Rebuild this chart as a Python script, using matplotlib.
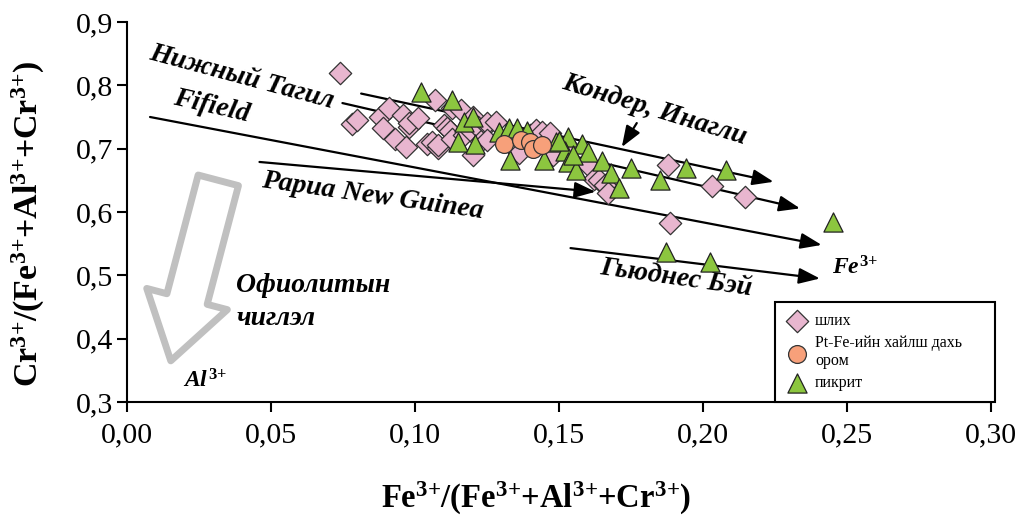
import matplotlib
matplotlib.use("Agg")
import matplotlib.pyplot as plt
from matplotlib.ticker import FuncFormatter, FixedLocator
from matplotlib.patches import FancyArrowPatch

plt.rcParams['font.family'] = ['Liberation Serif', 'DejaVu Serif']
plt.rcParams['mathtext.fontset'] = 'custom'
plt.rcParams['mathtext.rm'] = 'Liberation Serif:bold'
plt.rcParams['mathtext.it'] = 'Liberation Serif:italic:bold'
plt.rcParams['mathtext.bf'] = 'Liberation Serif:bold'

# ---- data ----
shlikh_x = [0.074, 0.078, 0.080, 0.088, 0.089, 0.091, 0.093, 0.096, 0.097, 0.098,
            0.098, 0.101, 0.104, 0.106, 0.107, 0.108, 0.108, 0.110, 0.111, 0.112,
            0.113, 0.113, 0.116, 0.117, 0.119, 0.120, 0.120, 0.122, 0.123, 0.125,
            0.125, 0.125, 0.128, 0.136, 0.140, 0.142, 0.144, 0.147, 0.148, 0.153,
            0.160, 0.162, 0.164, 0.166, 0.167, 0.188, 0.203, 0.2146, 0.1887]
shlikh_y = [0.820, 0.739, 0.745, 0.750, 0.732, 0.764, 0.715, 0.753, 0.702, 0.735,
            0.740, 0.748, 0.708, 0.711, 0.777, 0.701, 0.706, 0.737, 0.732, 0.728,
            0.764, 0.716, 0.761, 0.722, 0.730, 0.690, 0.750, 0.734, 0.712, 0.737,
            0.740, 0.714, 0.742, 0.693, 0.722, 0.729, 0.727, 0.724, 0.690, 0.705,
            0.674, 0.652, 0.650, 0.642, 0.630, 0.675, 0.641, 0.624, 0.582]

pikrit_x = [0.102, 0.1127, 0.117, 0.120, 0.115, 0.121, 0.129, 0.1327, 0.1355, 0.133,
            0.1448, 0.149, 0.153, 0.158, 0.152, 0.160, 0.153, 0.156, 0.165, 0.168,
            0.171, 0.175, 0.185, 0.194, 0.208, 0.245, 0.187, 0.2025, 0.139, 0.155,
            0.150]
pikrit_y = [0.790, 0.777, 0.742, 0.750, 0.711, 0.707, 0.727, 0.732, 0.732, 0.682,
            0.682, 0.711, 0.719, 0.708, 0.697, 0.694, 0.679, 0.666, 0.680, 0.661,
            0.638, 0.669, 0.650, 0.669, 0.666, 0.585, 0.537, 0.521, 0.728, 0.690,
            0.712]

ptfe_x = [0.131, 0.1367, 0.140, 0.1408, 0.1442]
ptfe_y = [0.708, 0.714, 0.711, 0.700, 0.706]

# trend lines (start x, start y, end x, end y)
trend_start_x = [0.0813, 0.0748, 0.008, 0.046, 0.154]
trend_start_y = [0.787, 0.772, 0.750, 0.679, 0.543]
trend_end_x = [0.2245, 0.2337, 0.2412, 0.1627, 0.2406]
trend_end_y = [0.6477, 0.6057, 0.548, 0.632, 0.495]

xticks = [0.00, 0.05, 0.10, 0.15, 0.20, 0.25, 0.30]
yticks = [0.3, 0.4, 0.5, 0.6, 0.7, 0.8, 0.9]

legend_labels = ['шлих', 'Pt-Fe-ийн хайлш дахь\nором', 'пикрит']

SUP = r'$^{3\!+}\!$'

# ---- figure ----
fig = plt.figure(figsize=(10.24, 5.2), dpi=100)
ax = fig.add_axes([127/1024, 1-402/520, 864/1024, 380/520])
ax.set_xlim(0, 0.30)
ax.set_ylim(0.3, 0.9)

for s in ['top', 'right']:
    ax.spines[s].set_visible(False)
for s in ['left', 'bottom']:
    ax.spines[s].set_linewidth(1.5)

ax.xaxis.set_major_locator(FixedLocator(xticks))
ax.yaxis.set_major_locator(FixedLocator(yticks))
ax.xaxis.set_major_formatter(FuncFormatter(lambda v, p: f"{v:.2f}".replace('.', ',')))
ax.yaxis.set_major_formatter(FuncFormatter(lambda v, p: f"{v:.1f}".replace('.', ',')))
ax.tick_params(axis='both', direction='out', length=7, width=1.5, labelsize=21.5)
ax.tick_params(axis='x', pad=8)
ax.tick_params(axis='y', pad=3)

# trend lines with arrows
for sx, sy, ex, ey in zip(trend_start_x, trend_start_y, trend_end_x, trend_end_y):
    ax.annotate('', xy=(ex, ey), xytext=(sx, sy),
                arrowprops=dict(arrowstyle='-|>,head_length=0.8,head_width=0.3',
                                mutation_scale=16, lw=1.6, color='black',
                                shrinkA=0, shrinkB=0), zorder=2)

# small arrow to Кондер line
ax.annotate('', xy=(0.1718, 0.7025), xytext=(0.177, 0.7404),
            arrowprops=dict(arrowstyle='-|>,head_length=0.8,head_width=0.3',
                            mutation_scale=16, lw=1.6, color='black',
                            shrinkA=0, shrinkB=0), zorder=2)

# grey hollow arrow
garr = FancyArrowPatch(posA=(0.0317, 0.650), posB=(0.0152, 0.365),
                       arrowstyle='simple,head_width=3.0,head_length=2.3,tail_width=1.5',
                       mutation_scale=20, facecolor='white', edgecolor='#c0c0c0',
                       lw=5, shrinkA=0, shrinkB=0, zorder=1)
ax.add_patch(garr)

# points
ax.scatter(shlikh_x, shlikh_y, marker='D', s=130, facecolor='#e8b6cf',
           edgecolor='#333333', linewidths=0.9, zorder=3, label=legend_labels[0])
ax.scatter(pikrit_x, pikrit_y, marker='^', s=190, facecolor='#8cc63f',
           edgecolor='#222222', linewidths=0.9, zorder=4, label=legend_labels[2])
ax.scatter(ptfe_x, ptfe_y, marker='o', s=165, facecolor='#f7a07a',
           edgecolor='#333333', linewidths=0.9, zorder=5, label=legend_labels[1])

# text annotations
tkw = dict(fontsize=20, fontweight='bold', fontstyle='italic', ha='center', va='center')
ax.text(0.040, 0.813, 'Нижный Тагил', rotation=-15, **tkw)
ax.text(0.0295, 0.766, 'Fifield', rotation=-13, **tkw)
ax.text(0.0852, 0.625, 'Papua New Guinea', rotation=-8, **tkw)
ax.text(0.183, 0.761, 'Кондер, Инагли', rotation=-17, **tkw)
ax.text(0.1905, 0.4956, 'Гьюднес Бэй', rotation=-8, **tkw)
ax.text(0.253, 0.511, r'$\mathit{Fe}^{3\!+}$', fontsize=17, ha='center', va='center')
ax.text(0.038, 0.4845, 'Офиолитын', fontsize=20, fontweight='bold', fontstyle='italic',
        ha='left', va='center')
ax.text(0.038, 0.432, 'чиглэл', fontsize=20, fontweight='bold', fontstyle='italic',
        ha='left', va='center')
ax.text(0.0194, 0.334, r'$\mathit{Al}^{3\!+}$', fontsize=17, ha='left', va='center')

# axis labels
ax.set_xlabel('Fe' + SUP + '/(Fe' + SUP + '+Al' + SUP + '+Cr' + SUP + ')',
              fontsize=23.5, fontweight='bold')
ax.set_ylabel('Cr' + SUP + '/(Fe' + SUP + '+Al' + SUP + '+Cr' + SUP + ')',
              fontsize=24.5, fontweight='bold')
ax.xaxis.set_label_coords(0.473, -0.205)
ax.yaxis.set_label_coords(-0.093, 0.47)

# legend
h, l = ax.get_legend_handles_labels()
order = [0, 2, 1]
leg = ax.legend([h[i] for i in order], [l[i] for i in order], loc='lower left',
                bbox_to_anchor=(0.750, 0.0, 0.2546, 0.268), mode='expand',
                frameon=True, fancybox=False,
                edgecolor='black', framealpha=1, borderpad=0.7, labelspacing=0.35,
                handletextpad=0.5, borderaxespad=0, handlelength=1.3,
                prop={'family': 'Liberation Serif', 'size': 11.5})
leg.get_frame().set_linewidth(1.5)
leg.set_zorder(6)

fig.savefig('out.png', dpi=100)
